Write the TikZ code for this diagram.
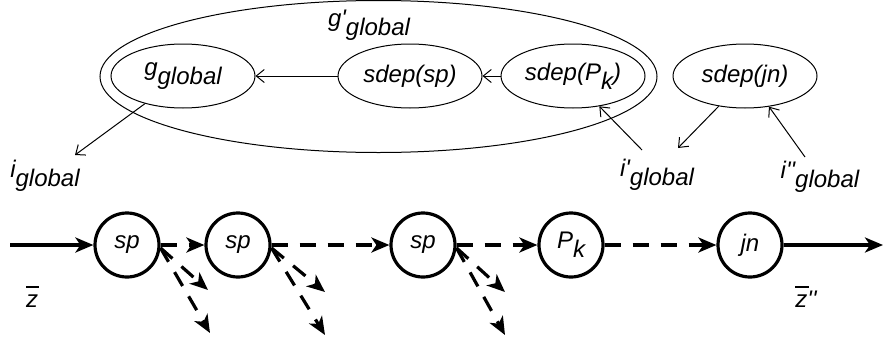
\documentclass[tikz,border=0pt]{standalone}
\usepackage{fontspec}
\setmainfont{Liberation Sans}
\usetikzlibrary{shapes.geometric,arrows.meta}
% lowered index set at full size, as in the original notation
\newcommand\lowered[1]{\raisebox{-0.38em}{#1}}
% z with a detached bar above it
\newcommand\zbar{\rlap{\raisebox{0.8em}{\rule{0.55em}{0.08em}}}z}
\newcommand\pr{\textquotesingle}

\begin{document}
\begin{tikzpicture}[x=1pt,y=-1pt,
  every node/.style={font=\fontsize{24}{28}\selectfont\itshape},
  oval/.style={ellipse, draw, line width=1pt, minimum width=144pt, minimum height=64pt, inner sep=0pt},
  ring/.style={circle, draw, line width=3.2pt, minimum size=64pt, inner sep=0pt},
  thinarrow/.style={line width=1pt, -{Straight Barb[length=8pt,width=13pt]}},
  flow/.style={line width=3.2pt, -{Stealth[length=18pt,width=15pt,inset=5pt]}},
  dflow/.style={flow, dash pattern=on 16pt off 12pt}]
\useasboundingbox (0,0) rectangle (883,343);

% upper part: dependency graph
\node[oval, minimum width=557pt, minimum height=152pt] (outer) at (378.5,76.5) {};
\node (gp) at (369,25) {g\pr\lowered{global}};
\node[oval] (gg) at (183,76) {g\lowered{global}};
\node[oval] (ssp) at (410,76) {sdep(sp)};
\node[oval] (spk) at (573,76) {sdep(P\lowered{k})};
\node[oval] (sjn) at (745,76) {sdep(jn)};

\node (ig) at (45,176) {i\lowered{global}};
\node (ip) at (657,175) {i\pr\lowered{global}};
\node (ipp) at (820,177) {i\pr\pr\lowered{global}};

\coordinate (igtip) at (75,155);
\coordinate (iptail) at (642,150);
\coordinate (ipptail) at (805,157);
\coordinate (iptip) at (678,148);

\draw[thinarrow] (ssp) -- (gg);
\draw[thinarrow] (spk) -- (ssp);
\draw[thinarrow] (gg.216) -- (igtip);
\draw[thinarrow] (iptail) -- (spk.-49);
\draw[thinarrow] (sjn.229) -- (iptip);
\draw[thinarrow] (ipptail) -- (sjn.-52);

% lower part: processing chain
\node[ring] (sp1) at (127,245) {sp};
\node[ring] (sp2) at (238,245) {sp};
\node[ring] (sp3) at (423,245) {sp};
\node[ring] (pk) at (571,245) {P\lowered{k}};
\node[ring] (jn) at (750,245) {jn};

\coordinate (in) at (10,245);
\coordinate (out) at (883,245);
\draw[flow] (in) -- (sp1);
\draw[flow] (jn) -- (out);
\draw[dflow] (sp1) -- (sp2);
\draw[dflow] (sp2) -- (sp3);
\draw[dflow] (sp3) -- (pk);
\draw[dflow] (pk) -- (jn);

\coordinate (a1) at (208,290);
\coordinate (b1) at (210,333);
\coordinate (a2) at (325,292);
\coordinate (b2) at (325,335);
\coordinate (a3) at (505,292);
\coordinate (b3) at (505,335);
\foreach \n in {1,2,3}{
  \draw[dflow] (sp\n.-5) -- (a\n);
  \draw[dflow] (sp\n.-5) -- (b\n);
}

\node (z) at (32,297) {\zbar};
\node (zpp) at (806,297) {\zbar\pr\pr};
\end{tikzpicture}
\end{document}
